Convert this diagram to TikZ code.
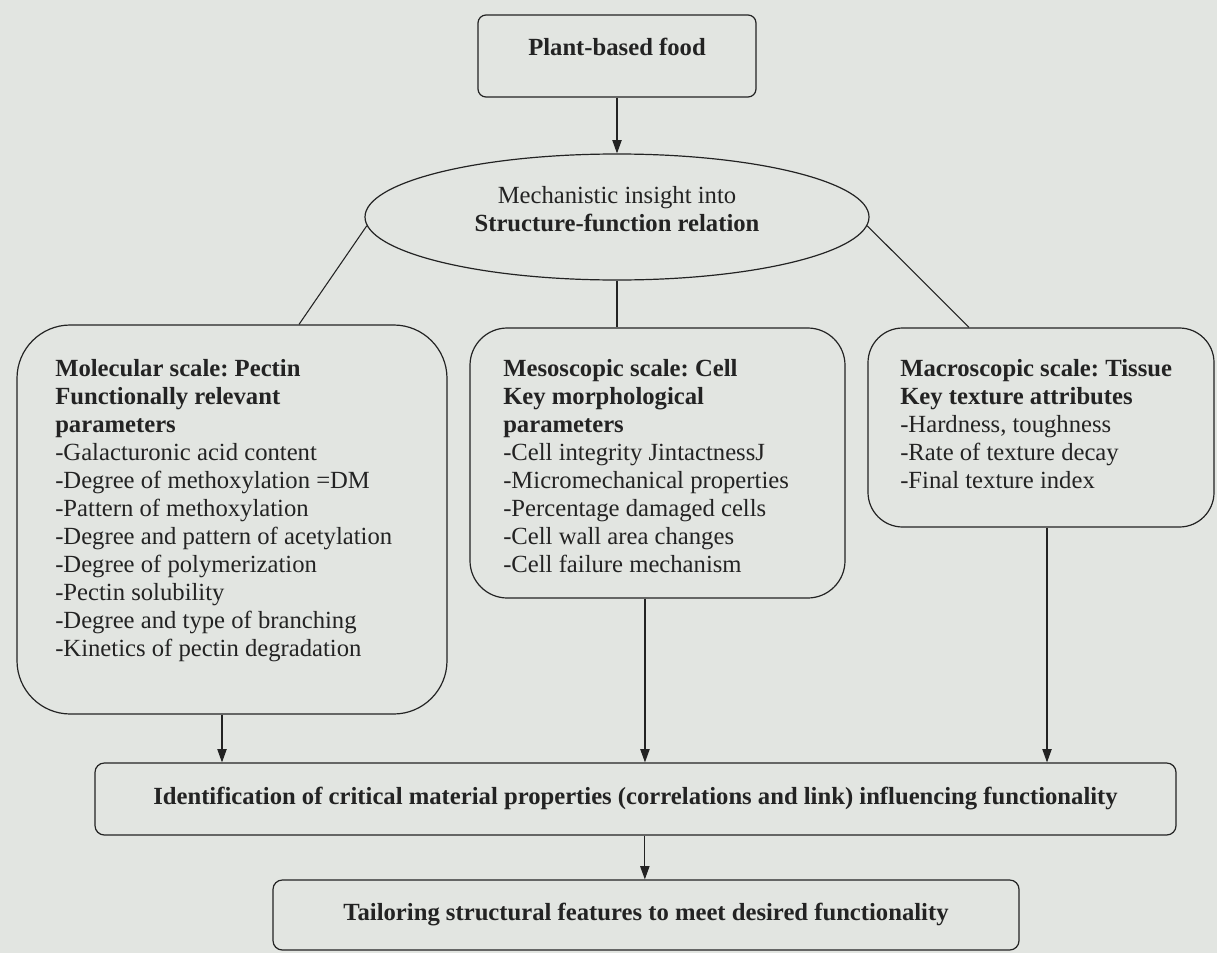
\documentclass[tikz,border=0pt]{standalone}
\usepackage{fontspec}
\setmainfont{Liberation Serif}
\usetikzlibrary{shapes.geometric,arrows.meta}

\definecolor{paper}{RGB}{226,229,225}
\definecolor{ink}{RGB}{35,35,35}

\tikzset{
  box/.style={draw=ink, line width=0.9pt, rounded corners=#1, inner sep=0pt},
  box/.default=6pt,
  boxtext/.style={anchor=north west, align=left, inner sep=0pt, text=ink},
  link/.style={draw=ink, line width=0.8pt}
}

\begin{document}
\frenchspacing
\begin{tikzpicture}[x=0.75pt,y=-0.75pt,>={Triangle[length=10pt,width=7pt]},
  font=\fontsize{18.5}{21}\selectfont]
   \fill[paper] (0,0) rectangle (1217,953);
   \useasboundingbox (0,0) rectangle (1217,953);

   \node[box, minimum width=208.5pt, minimum height=61.5pt] (plant) at (617,56) {};
   \node[text=ink] (planttxt) at (617,47) {\textbf{Plant-based food}};

   \node[ellipse, draw=ink, line width=0.9pt, minimum width=378pt, minimum height=94.5pt,
     inner sep=0pt] (ell) at (617,217) {};
   \node[align=center, text=ink] (elltxt) at (617,209)
     {Mechanistic insight into\\\textbf{Structure-function relation}};

   \node[box=40pt, minimum width=322.5pt, minimum height=291.75pt] (mol) at (232,519.5) {};
   \node[boxtext] (moltxt) at (55,359) {\textbf{Molecular scale: Pectin}\\
     \textbf{Functionally relevant}\\
     \textbf{parameters}\\
     -Galacturonic acid content\\
     -Degree of methoxylation =DM\\
     -Pattern of methoxylation\\
     -Degree and pattern of acetylation\\
     -Degree of polymerization\\
     -Pectin solubility\\
     -Degree and type of branching\\
     -Kinetics of pectin degradation};

   \node[box=28pt, minimum width=281.25pt, minimum height=202.5pt] (meso) at (657.5,463) {};
   \node[boxtext] (mesotxt) at (503,359) {\textbf{Mesoscopic scale: Cell}\\
     \textbf{Key morphological}\\
     \textbf{parameters}\\
     -Cell integrity JintactnessJ\\
     -Micromechanical properties\\
     -Percentage damaged cells\\
     -Cell wall area changes\\
     -Cell failure mechanism};

   \node[box=26pt, minimum width=259.5pt, minimum height=149.25pt] (macro) at (1041,427.5) {};
   \node[boxtext] (macrotxt) at (900,359) {\textbf{Macroscopic scale: Tissue}\\
     \textbf{Key texture attributes}\\
     -Hardness, toughness\\
     -Rate of texture decay\\
     -Final texture index};

   \node[box=7pt, minimum width=810.75pt, minimum height=54pt, text=ink] (ident) at (635.5,799)
     {\textbf{Identification of critical material properties (correlations and link) influencing functionality}};

   \node[box=7pt, minimum width=559.5pt, minimum height=52.5pt, text=ink] (tailor) at (646,915)
     {\textbf{Tailoring structural features to meet desired functionality}};

   \draw[link,->] (plant.south) -- (ell.north);
   \draw[link] (ell.182) -- ([xshift=50.25pt]mol.north);
   \draw[link] (ell.south) -- (ell.south |- meso.north);
   \draw[link] (ell.358) -- ([xshift=-54pt]macro.north);

   \draw[link,->] ([xshift=-7.5pt]mol.south) -- ([xshift=-7.5pt]mol.south |- ident.north);
   \draw[link,->] ([xshift=-9.4pt]meso.south) -- ([xshift=-9.4pt]meso.south |- ident.north);
   \draw[link,->] ([xshift=4.5pt]macro.south) -- ([xshift=4.5pt]macro.south |- ident.north);
   \draw[link,->] ([xshift=7pt]ident.south) -- ([xshift=7pt]ident.south |- tailor.north);
\end{tikzpicture}
\end{document}
